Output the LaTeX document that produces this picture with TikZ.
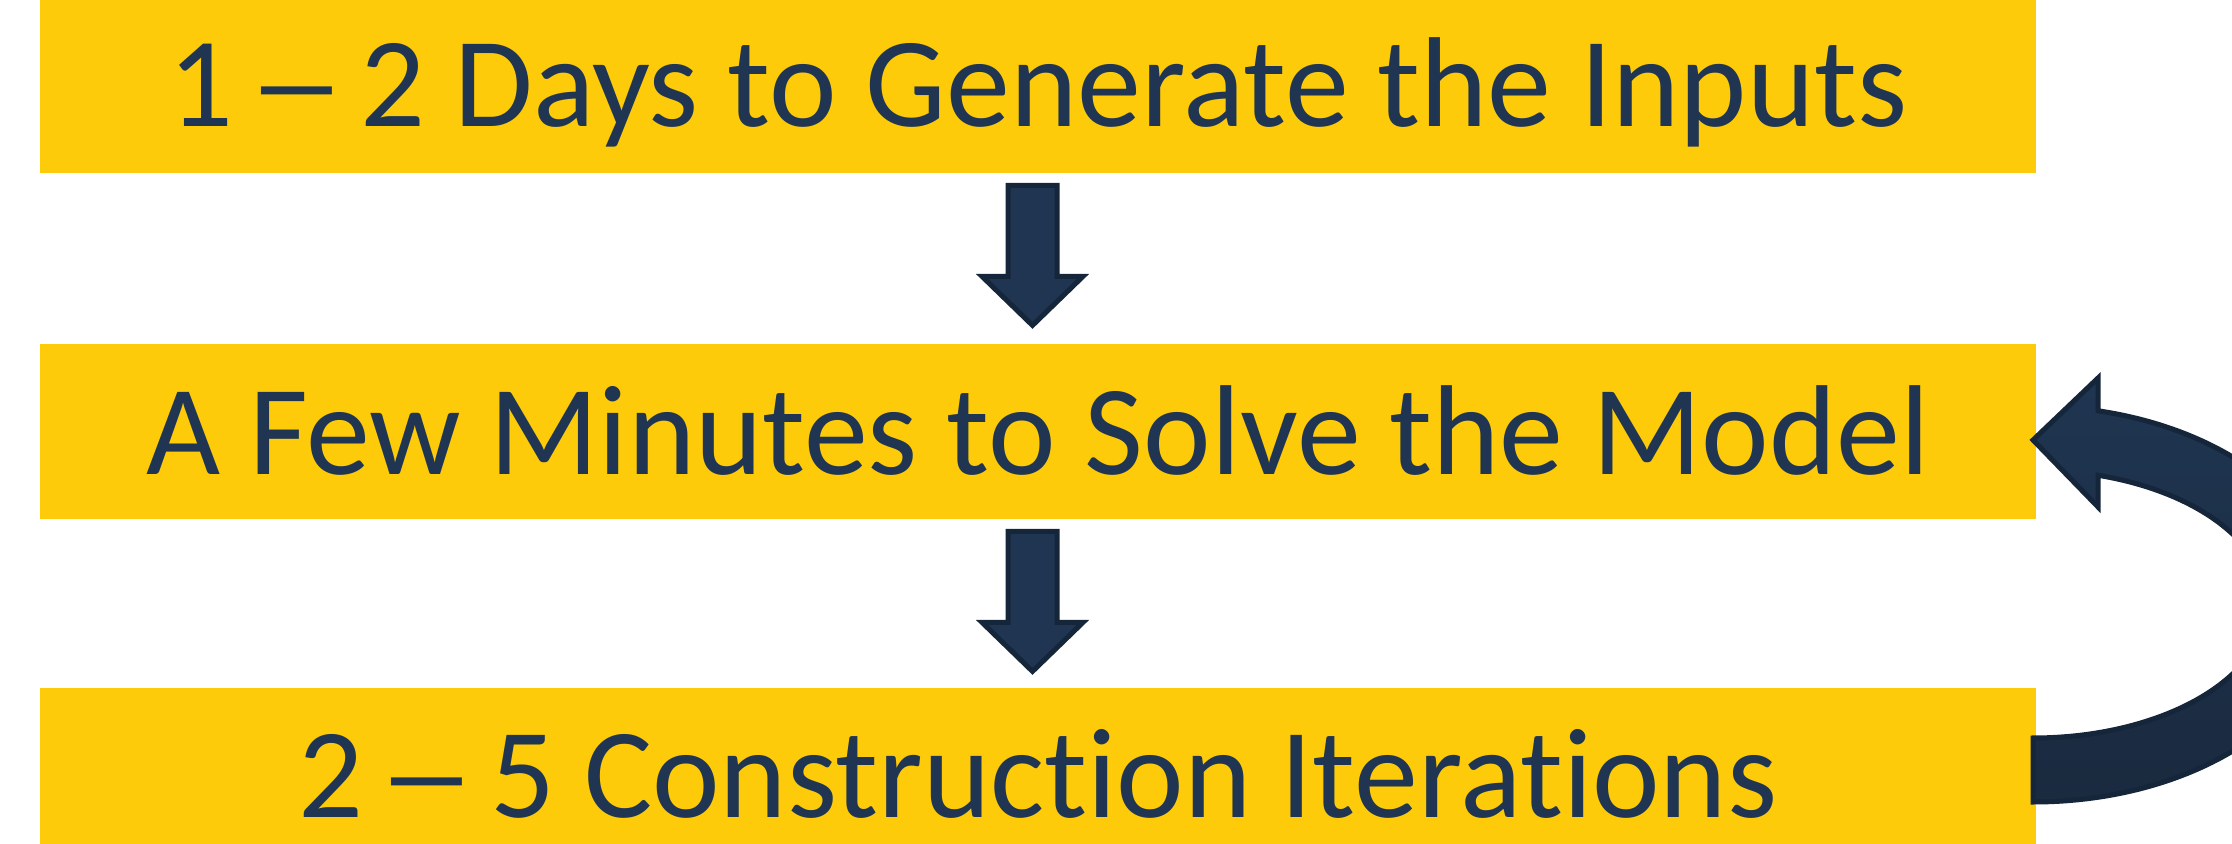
\documentclass[tikz,border=0pt]{standalone}
\usepackage{fontspec}
\setmainfont{Carlito}[Ligatures={NoCommon,NoContextual}]
\usetikzlibrary{calc}
\definecolor{boxyellow}{HTML}{FDCB0A}
\definecolor{navy}{HTML}{1F3551}
\definecolor{navydark}{HTML}{15253A}
\definecolor{navybot}{HTML}{1A2A3F}
\definecolor{textnavy}{HTML}{203551}
\newcommand{\widedash}{\hspace{0.11em}\scalebox{1.55}[1]{\textendash}\hspace{0.11em}}
\tikzset{
  stepbox/.style={fill=boxyellow, draw=none, inner sep=0pt, minimum width=998pt,
    text=textnavy, font=\fontsize{64}{76}\selectfont, text depth=0pt},
  blockarrow/.style={fill=navy, draw=navydark, line width=2.5pt, line join=miter},
  downarrow/.pic={\draw[blockarrow] (-30,12) -- (19,12) -- (19,103) -- (45,103) -- (-5.5,152) -- (-56,103) -- (-30,103) -- cycle;}
}
\begin{document}
\begin{tikzpicture}[x=0.5pt,y=-0.5pt]
\clip (0,0) rectangle (2232,844);
\node[stepbox, minimum height=86.5pt, text height=40.5pt] (b1) at (1038,86.5) {1\widedash2 Days to Generate the Inputs};
\node[stepbox, minimum height=87.5pt, text height=42.5pt] (b2) at (1038,431.5) {A Few Minutes to Solve the Model};
\node[stepbox, minimum height=87.5pt, text height=41.5pt] (b3) at (1038,775.5) {2\widedash5 Construction Iterations};
\pic at (b1.south) {downarrow};
\pic at (b2.south) {downarrow};
\draw[blockarrow, top color=navy, bottom color=navybot]
  (2033,802) arc[start angle=-90, end angle=77.40, x radius=149pt, y radius=99pt]
  -- (2098,378) -- (2033,440) -- (2098,507) -- (2098,475.27)
  arc[start angle=73.87, end angle=-90, x radius=117pt, y radius=67pt] -- cycle;
\end{tikzpicture}
\end{document}
